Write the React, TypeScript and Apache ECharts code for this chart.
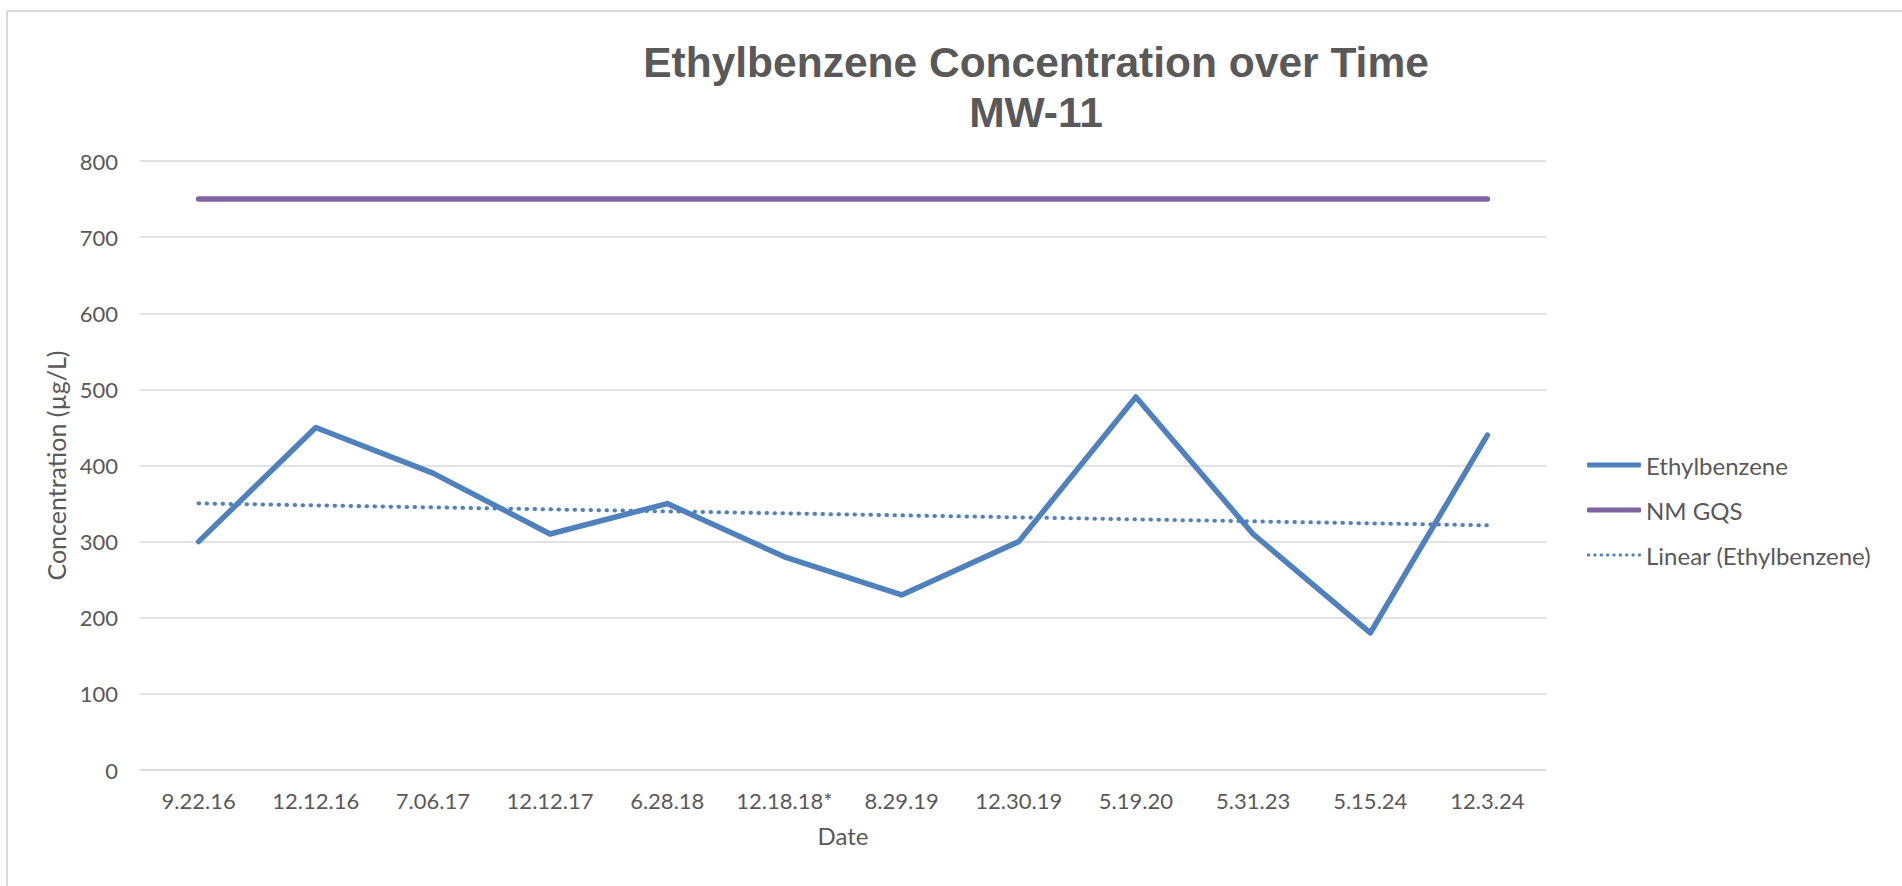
import React, { useEffect, useRef } from "react";
import * as echarts from "echarts";

const categories = [
  "9.22.16", "12.12.16", "7.06.17", "12.12.17", "6.28.18", "12.18.18*",
  "8.29.19", "12.30.19", "5.19.20", "5.31.23", "5.15.24", "12.3.24",
];
const ethylbenzene = [300, 450, 390, 310, 350, 280, 230, 300, 490, 310, 180, 440];
const nmGqs = [750, 750, 750, 750, 750, 750, 750, 750, 750, 750, 750, 750];
const yTicks = { min: 0, max: 800, interval: 100 };

// Least-squares linear trend of the Ethylbenzene series (as Excel's "Linear" trendline)
function linearTrend(ys: number[]): number[] {
  const n = ys.length;
  const mx = (n - 1) / 2;
  const my = ys.reduce((a, b) => a + b, 0) / n;
  let sxy = 0;
  let sxx = 0;
  ys.forEach((y, i) => {
    sxy += (i - mx) * (y - my);
    sxx += (i - mx) * (i - mx);
  });
  const slope = sxy / sxx;
  const intercept = my - slope * mx;
  return ys.map((_, i) => +(intercept + slope * i).toFixed(2));
}
const trend = linearTrend(ethylbenzene);

const LABEL_FONT = "Lato, 'Noto Sans', sans-serif";
const GRAY = "#595959";
const GRID = "#d9d9d9";
const BLUE = "#4f81bd";
const PURPLE = "#8064a2";

// legend icon for the dotted trendline: a row of small dots
function dotsIcon(): string {
  let d = "";
  for (let i = 0; i < 9; i++) {
    const x = i * 8;
    d += `M${x + 1},0 L${x + 3},0 L${x + 4},1 L${x + 4},3 L${x + 3},4 L${x + 1},4 L${x},3 L${x},1 Z `;
  }
  return "path://" + d.trim();
}

export default function App() {
  const ref = useRef<HTMLDivElement>(null);

  useEffect(() => {
    if (!ref.current) return;
    const chart = echarts.init(ref.current, undefined, { renderer: "svg" });
    chart.setOption({
      animation: false,
      backgroundColor: "#ffffff",
      title: {
        text: "Ethylbenzene Concentration over Time\nMW-11",
        left: 1031,
        top: 32,
        textAlign: "center",
        textStyle: {
          fontFamily: "'Liberation Sans', Arial, sans-serif",
          fontSize: 42.5,
          fontWeight: "bold",
          color: GRAY,
          lineHeight: 50,
        },
      },
      graphic: [
        {
          type: "line",
          shape: { x1: 7, y1: 11, x2: 1902, y2: 11 },
          style: { stroke: GRID, lineWidth: 2 },
        },
        {
          type: "line",
          shape: { x1: 7, y1: 11, x2: 7, y2: 886 },
          style: { stroke: GRID, lineWidth: 2 },
        },
      ],
      legend: {
        orient: "vertical",
        left: 1582,
        top: 448,
        itemWidth: 54,
        itemHeight: 5,
        itemGap: 21,
        textStyle: {
          fontFamily: LABEL_FONT,
          fontSize: 24,
          color: GRAY,
          lineHeight: 24,
        },
        data: [
          { name: "Ethylbenzene", icon: "roundRect", itemStyle: { color: BLUE } },
          { name: "NM GQS", icon: "roundRect", itemStyle: { color: PURPLE } },
          { name: "Linear (Ethylbenzene)", icon: dotsIcon(), itemStyle: { color: BLUE } },
        ],
      },
      grid: { left: 140, right: 356, top: 161, bottom: 116, containLabel: false },
      xAxis: {
        type: "category",
        data: categories,
        boundaryGap: true,
        name: "Date",
        nameLocation: "middle",
        nameGap: 53,
        nameTextStyle: { fontFamily: LABEL_FONT, fontSize: 24, color: GRAY },
        axisLine: { show: true, lineStyle: { color: GRID, width: 1.5 } },
        axisTick: { show: false },
        axisLabel: {
          fontFamily: LABEL_FONT,
          fontSize: 22,
          color: GRAY,
          margin: 19,
          interval: 0,
        },
      },
      yAxis: {
        type: "value",
        min: yTicks.min,
        max: yTicks.max,
        interval: yTicks.interval,
        name: "Concentration (µg/L)",
        nameLocation: "middle",
        nameGap: 70,
        nameTextStyle: { fontFamily: LABEL_FONT, fontSize: 25, color: GRAY },
        axisLine: { show: false },
        axisTick: { show: false },
        axisLabel: { fontFamily: LABEL_FONT, fontSize: 22, color: GRAY, margin: 22 },
        splitLine: { show: true, lineStyle: { color: GRID, width: 1.5 } },
      },
      series: [
        {
          name: "Ethylbenzene",
          type: "line",
          data: ethylbenzene,
          symbol: "none",
          itemStyle: { color: BLUE },
          lineStyle: { color: BLUE, width: 5.5, cap: "round", join: "round" },
          z: 3,
        },
        {
          name: "NM GQS",
          type: "line",
          data: nmGqs,
          symbol: "none",
          itemStyle: { color: PURPLE },
          lineStyle: { color: PURPLE, width: 5.5, cap: "round" },
          z: 2,
        },
        {
          name: "Linear (Ethylbenzene)",
          type: "line",
          data: trend,
          symbol: "none",
          itemStyle: { color: BLUE },
          lineStyle: { color: BLUE, width: 4, type: [0.5, 7.5], cap: "round" },
          z: 4,
        },
      ],
    });
    return () => chart.dispose();
  }, []);

  return (
    <div
      ref={ref}
      style={{ position: "absolute", left: 0, top: 0, width: 1902, height: 886 }}
    />
  );
}
